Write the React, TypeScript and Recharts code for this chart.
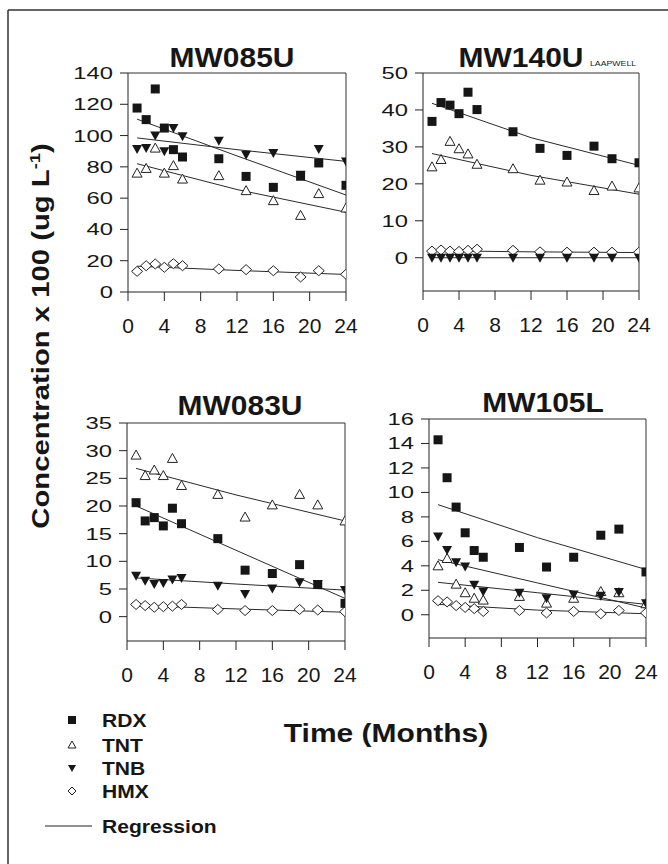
import React from 'react';
import { ComposedChart, Scatter, XAxis, YAxis, ReferenceLine } from 'recharts';

// ---------- data ----------
const months = [1, 2, 3, 4, 5, 6, 10, 13, 16, 19, 21, 24];
const regMonths = [1, 12, 24];
const xTicks = [0, 4, 8, 12, 16, 20, 24];

// MW085U
const w085RDX = [117.6, 110.2, 129.8, 104.8, 91, 86.3, 85.2, 73.9, 66.9, 74, 82.5, 68.2];
const w085TNT = [76, 79, 92, 76, 80.8, 72.2, 74.4, 64.8, 58.4, 49, 62.9, 53.7];
const w085TNB = [91.4, 92, 100, 90, 104.8, 99.5, 96.7, 87.8, 88.9, 75, 91.4, 83.5];
const w085HMX = [13.2, 16.8, 17.9, 15.8, 18.1, 16.8, 14.7, 14.3, 13.6, 9.6, 13.6, 11.3];
const w085RegRDX = [110.5, 87, 62];
const w085RegTNT = [82, 65.5, 51];
const w085RegTNB = [98.5, 91, 83.5];
const w085RegHMX = [16.5, 13.8, 11.2];
const w085Ticks = [0, 20, 40, 60, 80, 100, 120, 140];

// MW140U
const w140RDX = [36.9, 42.0, 41.3, 39.0, 44.8, 40.1, 34.1, 29.6, 27.7, 30.2, 26.8, 25.7];
const w140TNT = [24.6, 26.6, 31.5, 29.5, 28.1, 25.3, 24.1, 21.0, 20.5, 18.2, 19.4, 18.9];
const w140TNB = [0, 0, 0, 0, 0, 0, 0, 0, 0, 0, 0, 0];
const w140HMX = [1.8, 2.1, 1.8, 1.7, 2.0, 2.3, 2.0, 1.6, 1.5, 1.5, 1.5, 1.5];
const w140RegRDX = [41.8, 32.5, 25];
const w140RegTNT = [28.2, 22.3, 17.2];
const w140RegTNB = [0, 0, 0];
const w140RegHMX = [1.9, 1.6, 1.4];
const w140Ticks = [0, 10, 20, 30, 40, 50];

// MW083U
const w083RDX = [20.6, 17.3, 17.9, 16.4, 19.6, 16.8, 14.1, 8.4, 7.8, 9.4, 5.8, 2.4];
const w083TNT = [29.2, 25.5, 26.5, 25.5, 28.6, 23.7, 22.1, 18.0, 20.2, 22.1, 20.2, 17.3];
const w083TNB = [7.4, 6.5, 5.9, 6.1, 6.7, 7.0, 5.6, 4.1, 5.1, 6.2, 5.9, 4.8];
const w083HMX = [2.2, 2.0, 1.7, 1.8, 1.9, 2.2, 1.3, 1.1, 1.1, 1.3, 1.2, 0.9];
const w083RegRDX = [20, 12, 3.3];
const w083RegTNT = [26.8, 22, 17.3];
const w083RegTNB = [7.0, 5.9, 4.8];
const w083RegHMX = [2.0, 1.4, 0.8];
const w083Ticks = [0, 5, 10, 15, 20, 25, 30, 35];

// MW105L
const w105RDX = [14.3, 11.2, 8.8, 6.7, 5.25, 4.7, 5.5, 3.9, 4.7, 6.5, 7.0, 3.5];
const w105TNT = [4.0, 4.6, 2.5, 1.8, 1.35, 1.2, 1.5, 0.95, 1.35, 1.9, 1.8, 0.9];
const w105TNB = [6.4, 5.3, 4.3, 3.95, 2.45, 1.9, 1.8, 1.35, 1.65, 1.55, 1.85, 0.95];
const w105HMX = [1.15, 1.05, 0.75, 0.6, 0.5, 0.27, 0.35, 0.15, 0.27, 0.08, 0.35, 0.14];
const w105RegRDX = [9.0, 6.3, 3.7];
const w105RegTNT = [2.65, 1.8, 0.85];
const w105RegTNB = [4.5, 2.6, 0.55];
const w105RegHMX = [0.85, 0.38, 0.08];
const w105Ticks = [0, 2, 4, 6, 8, 10, 12, 14, 16];

const seriesNames = ['RDX', 'TNT', 'TNB', 'HMX'];

// ---------- helpers ----------
const pts = (xs: number[], ys: number[]) => xs.map((x, i) => ({ x, y: ys[i] }));

const FONT = '"Liberation Sans", Arial, Helvetica, sans-serif';
const INK = '#161616';

const Square = (p: any) => (
  <rect x={p.cx - 4.5} y={p.cy - 4.5} width={9} height={9} fill={INK} />
);
const TriUp = (p: any) => (
  <polygon
    points={`${p.cx},${p.cy - 5} ${p.cx + 5},${p.cy + 4} ${p.cx - 5},${p.cy + 4}`}
    fill="#fff"
    stroke="#222"
    strokeWidth={1}
  />
);
const TriDown = (p: any) => (
  <polygon
    points={`${p.cx - 5},${p.cy - 4} ${p.cx + 5},${p.cy - 4} ${p.cx},${p.cy + 5}`}
    fill={INK}
  />
);
const Diamond = (p: any) => (
  <polygon
    points={`${p.cx},${p.cy - 5} ${p.cx + 5.5},${p.cy} ${p.cx},${p.cy + 5} ${p.cx - 5.5},${p.cy}`}
    fill="#fff"
    stroke="#222"
    strokeWidth={1}
  />
);
const NoShape = () => <g />;

const YTick = (p: any) => (
  <g transform={`translate(${p.x},${p.y}) scale(1.4,1)`}>
    <text x={0} y={0} dy={6} textAnchor="end" fontSize={17} fontFamily={FONT} fill={INK}>
      {p.payload.value}
    </text>
  </g>
);
const XTick = (p: any) => (
  <text x={p.x} y={p.y} dy={15} textAnchor="middle" fontSize={21} fontFamily={FONT} fill={INK}>
    {p.payload.value}
  </text>
);

type PanelProps = {
  L: number; R: number; T: number; B: number;
  domain: [number, number]; ticks: number[];
  rdx: number[]; tnt: number[]; tnb: number[]; hmx: number[];
  rRdx: number[]; rTnt: number[]; rTnb: number[]; rHmx: number[];
};

const YW = 68;
const XH = 52;
const MT = 13;
const MR = 14;

function Panel(pp: PanelProps) {
  const W = pp.R - pp.L + YW + MR;
  const H = pp.B - pp.T + MT + XH;
  const lineStyle = { stroke: '#2a2a2a', strokeWidth: 1 };
  return (
    <div style={{ position: 'absolute', left: pp.L - YW, top: pp.T - MT }}>
      <ComposedChart width={W} height={H} margin={{ top: MT, right: MR, bottom: 0, left: 0 }}>
        <XAxis
          type="number"
          dataKey="x"
          domain={[0, 24]}
          ticks={xTicks}
          height={XH}
          tickSize={9}
          tickMargin={17}
          tick={<XTick />}
          stroke="#222"
          allowDataOverflow
        />
        <YAxis
          type="number"
          dataKey="y"
          domain={pp.domain}
          ticks={pp.ticks}
          width={YW}
          tickSize={8}
          tickMargin={7}
          tick={<YTick />}
          stroke="#222"
          allowDataOverflow
          interval={0}
        />
        <ReferenceLine y={pp.domain[1]} stroke="#333" strokeWidth={1} />
        <ReferenceLine x={24} stroke="#333" strokeWidth={1} />
        <Scatter name="RDX fit" data={pts(regMonths, pp.rRdx)} line={lineStyle} shape={<NoShape />} isAnimationActive={false} />
        <Scatter name="TNT fit" data={pts(regMonths, pp.rTnt)} line={lineStyle} shape={<NoShape />} isAnimationActive={false} />
        <Scatter name="TNB fit" data={pts(regMonths, pp.rTnb)} line={lineStyle} shape={<NoShape />} isAnimationActive={false} />
        <Scatter name="HMX fit" data={pts(regMonths, pp.rHmx)} line={lineStyle} shape={<NoShape />} isAnimationActive={false} />
        <Scatter name={seriesNames[3]} data={pts(months, pp.hmx)} shape={<Diamond />} isAnimationActive={false} />
        <Scatter name={seriesNames[1]} data={pts(months, pp.tnt)} shape={<TriUp />} isAnimationActive={false} />
        <Scatter name={seriesNames[2]} data={pts(months, pp.tnb)} shape={<TriDown />} isAnimationActive={false} />
        <Scatter name={seriesNames[0]} data={pts(months, pp.rdx)} shape={<Square />} isAnimationActive={false} />
      </ComposedChart>
    </div>
  );
}

const legendRows = [
  { label: 'RDX', y: 720, mark: 'square' },
  { label: 'TNT', y: 745, mark: 'up' },
  { label: 'TNB', y: 768, mark: 'down' },
  { label: 'HMX', y: 791, mark: 'diamond' },
  { label: 'Regression', y: 826, mark: 'line' },
];

function LegendMark({ mark, y }: { mark: string; y: number }) {
  const cx = 72;
  if (mark === 'square') return <rect x={cx - 4} y={y - 4} width={8} height={8} fill={INK} />;
  if (mark === 'up')
    return <polygon points={`${cx},${y - 4} ${cx + 4},${y + 3} ${cx - 4},${y + 3}`} fill="#fff" stroke="#222" strokeWidth={1} />;
  if (mark === 'down')
    return <polygon points={`${cx - 4},${y - 3} ${cx + 4},${y - 3} ${cx},${y + 4}`} fill={INK} />;
  if (mark === 'diamond')
    return <polygon points={`${cx},${y - 4} ${cx + 4},${y} ${cx},${y + 4} ${cx - 4},${y}`} fill="#fff" stroke="#222" strokeWidth={1} />;
  return <line x1={45} x2={92} y1={y} y2={y} stroke="#222" strokeWidth={1} />;
}

function Title({ x, y, text }: { x: number; y: number; text: string }) {
  return (
    <text transform={`translate(${x},${y}) scale(1.07,1)`} textAnchor="middle" fontSize={28} fontWeight="bold" fontFamily={FONT} fill={INK}>
      {text}
    </text>
  );
}

export default function App() {
  return (
    <div style={{ position: 'absolute', left: 0, top: 0, width: 668, height: 864, background: '#fff', overflow: 'hidden' }}>
      <svg width={668} height={864} style={{ position: 'absolute', left: 0, top: 0 }}>
        <line x1={8} y1={10} x2={668} y2={10} stroke="#333" strokeWidth={1.5} />
        <line x1={8} y1={10} x2={8} y2={864} stroke="#333" strokeWidth={1.5} />
        <Title x={232} y={67} text="MW085U" />
        <Title x={521} y={67} text="MW140U" />
        <text transform="translate(590,66) scale(1.25,1)" fontSize={7} fontFamily={FONT} fill={INK}>LAAPWELL</text>
        <Title x={240} y={415} text="MW083U" />
        <Title x={543} y={412} text="MW105L" />
        <text transform="translate(49,336) rotate(-90) scale(1.22,1)" textAnchor="middle" fontSize={24} fontWeight="bold" fontFamily={FONT} fill={INK}>
          Concentration x 100 (ug L
          <tspan fontSize={15} dy={-9}>-1</tspan>
          <tspan dy={9}>)</tspan>
        </text>
        <text transform="translate(386,742) scale(1.2,1)" textAnchor="middle" fontSize={25} fontWeight="bold" fontFamily={FONT} fill={INK}>
          Time (Months)
        </text>
        {legendRows.map((r) => (
          <g key={r.label}>
            <LegendMark mark={r.mark} y={r.y} />
            <text transform={`translate(102,${r.y + 6.5}) scale(1.17,1)`} fontSize={18} fontWeight="bold" fontFamily={FONT} fill={INK}>
              {r.label}
            </text>
          </g>
        ))}
      </svg>
      <Panel L={128} R={346} T={73} B={292} domain={[0, 140]} ticks={w085Ticks}
        rdx={w085RDX} tnt={w085TNT} tnb={w085TNB} hmx={w085HMX}
        rRdx={w085RegRDX} rTnt={w085RegTNT} rTnb={w085RegTNB} rHmx={w085RegHMX} />
      <Panel L={423} R={639} T={73} B={291} domain={[-9, 50]} ticks={w140Ticks}
        rdx={w140RDX} tnt={w140TNT} tnb={w140TNB} hmx={w140HMX}
        rRdx={w140RegRDX} rTnt={w140RegTNT} rTnb={w140RegTNB} rHmx={w140RegHMX} />
      <Panel L={127} R={345} T={423} B={641} domain={[-4.4, 35]} ticks={w083Ticks}
        rdx={w083RDX} tnt={w083TNT} tnb={w083TNB} hmx={w083HMX}
        rRdx={w083RegRDX} rTnt={w083RegTNT} rTnb={w083RegTNB} rHmx={w083RegHMX} />
      <Panel L={429} R={646} T={419} B={638} domain={[-1.9, 16]} ticks={w105Ticks}
        rdx={w105RDX} tnt={w105TNT} tnb={w105TNB} hmx={w105HMX}
        rRdx={w105RegRDX} rTnt={w105RegTNT} rTnb={w105RegTNB} rHmx={w105RegHMX} />
    </div>
  );
}
